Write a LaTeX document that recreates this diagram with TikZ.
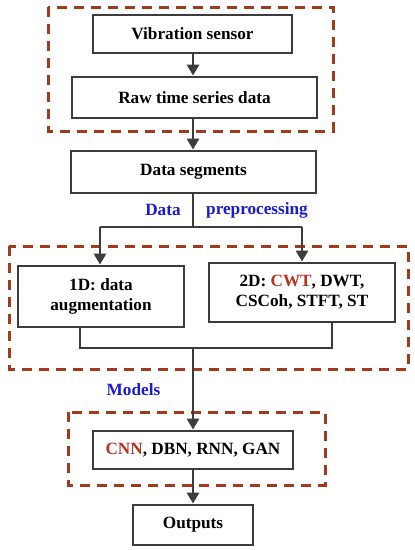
\documentclass[tikz,border=0pt]{standalone}
\usepackage{fontspec}
\setmainfont{Liberation Serif}
\usetikzlibrary{arrows.meta}
\definecolor{boxgray}{HTML}{3C3C3C}
\definecolor{dashbrown}{HTML}{A23A1E}
\definecolor{labblue}{HTML}{1A1AD0}
\definecolor{hlred}{HTML}{B8321E}
\tikzset{
  pbox/.style={draw=boxgray, line width=2.8pt, fill=white, align=center,
    font=\fontsize{17.2}{20}\selectfont\bfseries, inner sep=2pt},
  grp/.style={draw=dashbrown, line width=3pt, dash pattern=on 10pt off 7pt},
  conn/.style={draw=boxgray, line width=2.8pt},
  arr/.style={conn, -{Triangle[width=12pt,length=11pt]}},
  lab/.style={text=labblue, font=\fontsize{17.2}{20}\selectfont\bfseries}
}
\begin{document}
\begin{tikzpicture}[x=1pt,y=-1pt]
\useasboundingbox (0,0) rectangle (415,550);
% dashed groups
\draw[grp] (48,7) rectangle (333,131);
\draw[grp] (9,246) rectangle (408,369);
\draw[grp] (68,412) rectangle (325,485);
% boxes
\node[pbox, minimum width=199pt, minimum height=38pt] (vib) at (192.5,34) {Vibration sensor};
\node[pbox, minimum width=245pt, minimum height=41pt] (raw) at (194.5,97.5) {Raw time series data};
\node[pbox, minimum width=245pt, minimum height=42pt] (seg) at (193.5,172) {Data segments};
\node[pbox, minimum width=166pt, minimum height=61pt] (d1) at (101,296.5) {1D: data\\augmentation};
\node[pbox, minimum width=186pt, minimum height=59pt] (d2) at (302,292.5) {2D: \textcolor{hlred}{CWT}, DWT,\\CSCoh, STFT, ST};
\node[pbox, minimum width=200pt, minimum height=38pt] (cnn) at (193,450) {\textcolor{hlred}{CNN}, DBN, RNN, GAN};
\node[pbox, minimum width=120pt, minimum height=40pt] (out) at (193,525) {Outputs};
% labels
\node[lab] (ldata) at (163,210) {Data};
\node[lab] (lpre) at (257,210) {preprocessing};
\node[lab] (lmod) at (133.5,390) {Models};
% connectors
\coordinate (split) at (193,227);
\coordinate (sl) at (100,227);
\coordinate (sr) at (302,227);
\coordinate (jl) at (80,348);
\coordinate (jr) at (332,348);
\coordinate (jm) at (193,348);
\draw[arr] (vib.south -| split) -- (raw.north -| split);
\draw[arr] (raw.south -| split) -- (seg.north -| split);
\draw[conn] (seg.south -| split) -- (split);
\draw[conn] (sl) -- (sr);
\draw[arr] (sl) -- (sl |- d1.north);
\draw[arr] (sr) -- (sr |- d2.north);
\draw[conn] (d1.south -| jl) -- (jl) -- (jr) -- (d2.south -| jr);
\draw[arr] (jm) -- (jm |- cnn.north);
\draw[arr] (cnn.south -| split) -- (out.north -| split);
\end{tikzpicture}
\end{document}
